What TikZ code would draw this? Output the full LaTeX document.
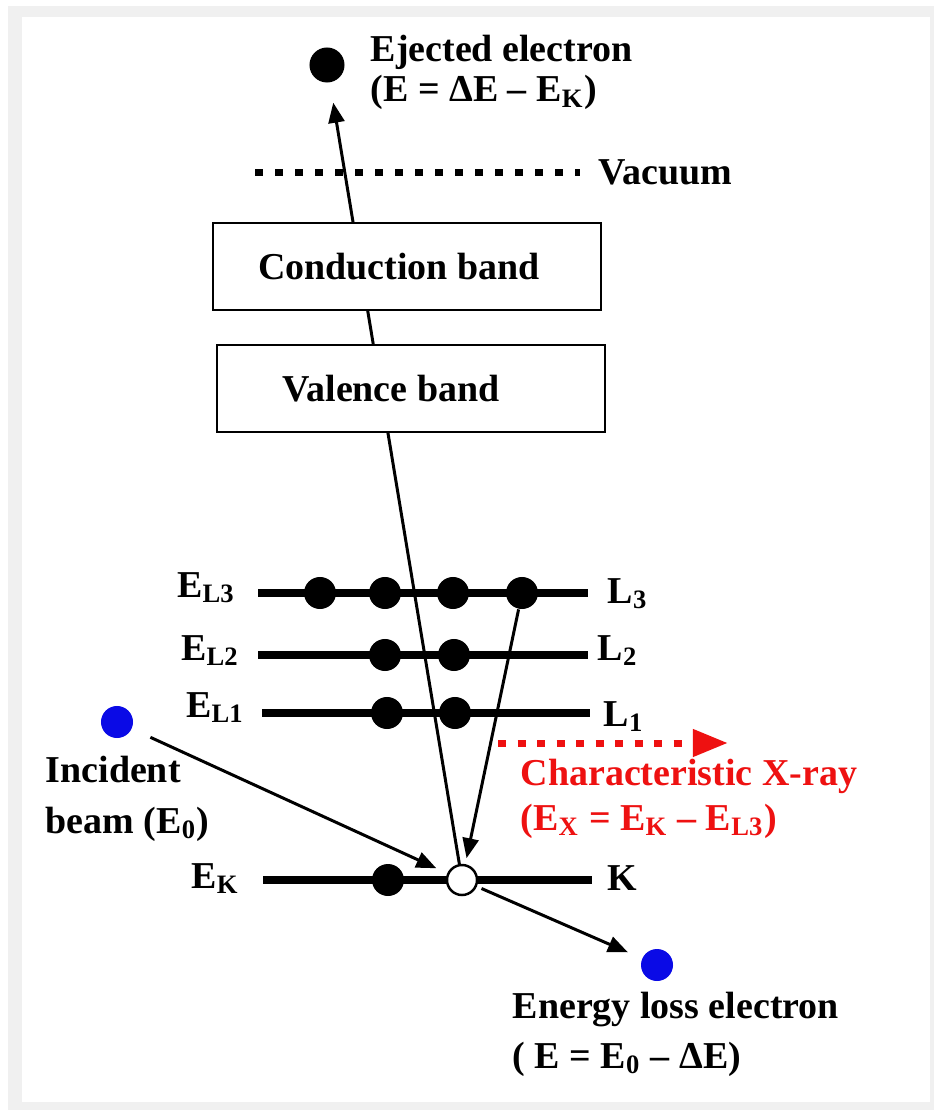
\documentclass[tikz,border=0pt]{standalone}
\usepackage{fontspec}
\setmainfont{Liberation Serif}
\usetikzlibrary{arrows.meta}
\definecolor{frame}{HTML}{F0F0F0}
\definecolor{xred}{HTML}{EE1111}
\definecolor{eblue}{HTML}{0A0AE6}
\newcommand{\sbs}[1]{\textsubscript{#1}}

\begin{document}
\begin{tikzpicture}[x=0.01cm, y=-0.01cm,
  lbl/.style={font=\fontsize{10.8}{13}\selectfont\bfseries, inner sep=0pt, anchor=base west},
  level/.style={line width=2pt},
  elec/.style={circle, fill=black, inner sep=0pt, minimum size=0.32cm},
  beam/.style={elec, fill=eblue},
  band/.style={draw, line width=0.6pt, fill=white, minimum width=3.88cm, minimum height=0.87cm, inner sep=0pt},
  arr/.style={line width=0.85pt, -{Triangle[length=0.2cm, width=0.16cm]}},
  vac/.style={line width=0.07cm, dash pattern=on 0.08cm off 0.12cm},
  xray/.style={xred, line width=0.07cm, dash pattern=on 0.08cm off 0.115cm, -{Triangle[length=0.35cm, width=0.26cm]}}]
  % frame
  \fill[white] (0,0) rectangle (934,1110);
  \fill[frame] (8,6) rectangle (934,1110);
  \fill[white] (22,17) rectangle (930,1102);
  \useasboundingbox (0,0) rectangle (934,1110);

  % energy levels
  \coordinate (L3w) at (258,593); \coordinate (L3e) at (588,593);
  \coordinate (L2w) at (258,655); \coordinate (L2e) at (588,655);
  \coordinate (L1w) at (262,713); \coordinate (L1e) at (590,713);
  \coordinate (Kw)  at (263,880); \coordinate (Ke)  at (592,880);
  \draw[level] (L3w) -- (L3e);
  \draw[level] (L2w) -- (L2e);
  \draw[level] (L1w) -- (L1e);
  \draw[level] (Kw) -- (Ke);

  % electrons
  \foreach \x/\n in {320/a, 385/b, 453/c, 522/d}
    \node[elec] (e3\n) at (\x,593) {};
  \foreach \x/\n in {385/a, 454/b}
    \node[elec] (e2\n) at (\x,655) {};
  \foreach \x/\n in {387/a, 455/b}
    \node[elec] (e1\n) at (\x,713) {};
  \node[elec] (eK) at (388,880) {};
  \node[circle, draw, fill=white, line width=0.7pt, inner sep=0pt, minimum size=0.3cm] (hole) at (462,880) {};
  \node[elec, minimum size=0.35cm] (ej) at (327,65) {};
  \node[beam] (inc) at (117,722) {};
  \node[beam] (out) at (657,965) {};

  % vacuum level
  \draw[vac] (255,173) -- (580,173);
  \node[lbl] (vact) at (598,185) {Vacuum};

  % ejection path, then the bands over it
  \draw[arr, shorten >=0.2cm] (hole) -- (ej);
  \node[band] (cb) at (407,266.5) {};
  \node[band] (vb) at (411,388.5) {};
  \node[lbl, anchor=base] (cbt) at (399,280) {Conduction band};
  \node[lbl, anchor=base] (vbt) at (391,402) {Valence band};

  % transitions
  \draw[arr, shorten >=0.06cm] (e3d) -- (hole);
  \draw[arr, shorten <=0.2cm, shorten >=0.12cm] (inc) -- (hole);
  \draw[arr, shorten <=0.05cm, shorten >=0.15cm] (hole) -- (out);
  \coordinate (xs) at (498,743);
  \coordinate (xe) at (728,743);
  \draw[xray] (xs) -- (xe);

  % level labels
  \node[lbl, anchor=base east] (tL3) at (236,597) {E\sbs{L3}};
  \node[lbl, anchor=base east] (tL2) at (240,660) {E\sbs{L2}};
  \node[lbl, anchor=base east] (tL1) at (245,717) {E\sbs{L1}};
  \node[lbl, anchor=base east] (tK)  at (240,888) {E\sbs{K}};
  \node[lbl] (rL3) at (607,603) {L\sbs{3}};
  \node[lbl] (rL2) at (597,660) {L\sbs{2}};
  \node[lbl] (rL1) at (603,726) {L\sbs{1}};
  \node[lbl] (rK)  at (607,890) {K};

  % texts
  \node[lbl] (ejt1) at (370,62)  {Ejected electron};
  \node[lbl] (ejt2) at (370,102) {(E = ΔE -- E\sbs{K})};
  \node[lbl] (inct1) at (45,782) {Incident};
  \node[lbl] (inct2) at (45,833) {beam (E\sbs{0})};
  \node[lbl, text=xred] (xt1) at (520,785) {Characteristic X-ray};
  \node[lbl, text=xred] (xt2) at (520,830) {(E\sbs{X} = E\sbs{K} -- E\sbs{L3})};
  \node[lbl] (outt1) at (512,1018) {Energy loss electron};
  \node[lbl] (outt2) at (512,1068) {( E = E\sbs{0} -- ΔE)};
\end{tikzpicture}
\end{document}
